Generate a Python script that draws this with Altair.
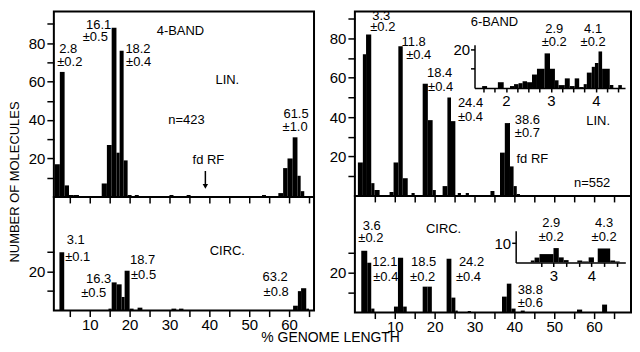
import altair as alt
import pandas as pd

FONT = "Liberation Sans"
INK = "black"

# ---------------- histogram data: bin edges (% genome length) and counts ----------------
L_LIN_EDGES = [1.2, 2.5, 3.7, 4.8, 6.0, 7.3, 13.0, 14.3, 15.5, 16.7, 17.5, 18.5, 19.5, 20.5, 21.3,
               22.3, 30.0, 31.0, 34.3, 35.3, 53.2, 54.2, 57.3, 58.5, 59.6, 60.9, 62.1, 62.9, 63.8]
L_LIN_COUNTS = [17, 65, 6, 1, 1, 0, 7, 27, 88, 23, 76, 19, 1, 0, 1, 0, 1, 0, 1, 0, 1, 0, 2, 15, 20,
                31, 11, 3]

L_CIRC_EDGES = [2.4, 3.6, 14.7, 15.5, 16.75, 18.0, 18.75, 20.0, 21.0, 22.0, 23.2, 30.5, 31.7, 32.4,
                33.5, 61.0, 62.2, 63.0, 64.3, 65.0]
L_CIRC_COUNTS = [30, 0, 1, 14.5, 13.5, 7, 20.5, 1, 0, 1.5, 0, 1, 0, 1, 0, 2.5, 10, 11.5, 1]

R_LIN_EDGES = [0.75, 2.0, 2.8, 4.1, 4.9, 6.2, 8.7, 9.7, 10.9, 12.0, 13.25, 14.2, 15.0, 17.0, 18.3,
               19.5, 20.3, 22.0, 23.2, 24.1, 25.2, 25.8, 26.6, 27.8, 28.6, 34.0, 35.0, 36.4, 37.6,
               38.9, 39.8, 40.6, 41.4]
R_LIN_COUNTS = [17, 72, 82, 6.5, 3, 0, 2, 17, 76, 9, 0, 1.5, 0, 57, 38.5, 3, 0, 5, 50, 38, 0, 1.5,
                0, 1.5, 0, 2.5, 0, 22, 37, 15, 5, 1]

R_CIRC_EDGES = [1.6, 3.1, 4.1, 4.9, 9.8, 10.8, 12.1, 13.0, 17.0, 18.2, 19.3, 23.0, 24.2, 25.2, 25.8,
                28.3, 29.1, 36.9, 38.1, 39.25, 40.3, 41.6, 42.6, 55.7, 57.0, 62.0, 63.25]
R_CIRC_COUNTS = [31, 25, 2, 0, 3, 27.5, 3, 0, 13, 13, 0, 27, 7.5, 1, 0, 0.8, 0, 8, 14.5, 2, 0, 1, 0,
                 1.5, 0, 4]

# insets (6-band)
INS_LIN_EDGES = [1.47, 1.58, 1.82, 1.95, 2.09, 2.18, 2.28, 2.37, 2.47, 2.58, 2.69, 2.86, 2.98, 3.09,
                 3.17, 3.31, 3.42, 3.53, 3.63, 3.73, 3.80, 3.91, 3.98, 4.06, 4.14, 4.31, 4.39, 4.50,
                 4.58]
INS_LIN_COUNTS = [1, 0, 3, 0, 1, 2, 2.5, 3.5, 3, 7, 10, 18, 10, 4, 1.5, 5, 1, 5, 0.5, 2, 8, 11, 13,
                  19, 10, 1.5, 0, 1.5]

INS_CIRC_EDGES = [2.4, 2.5, 2.63, 3.0, 3.14, 3.27, 3.4, 3.63, 3.76, 3.93, 4.07, 4.17, 4.5, 4.63, 4.75]
INS_CIRC_COUNTS = [1, 2.5, 4.3, 7.4, 2.6, 1.2, 0, 1, 0.5, 2.6, 0, 7.2, 1, 0.5]

# ---------------- annotations (text, x in %, y in counts) ----------------
L_LIN_TEXT = ["4-BAND", "2.8", "±0.2", "16.1", "±0.5", "18.2", "±0.4", "LIN.", "n=423", "61.5", "±1.0", "fd RF"]
L_LIN_X = [32.75, 4.6, 5.0, 12.25, 11.4, 22.1, 22.25, 44.5, 34.25, 61.75, 61.5, 39.75]
L_LIN_Y = [86.5, 76.7, 70.0, 89.6, 82.9, 76.7, 70.0, 60.6, 39.9, 43.0, 36.3, 19.2]

L_CIRC_TEXT = ["3.1", "±0.1", "CIRC.", "16.3", "±0.5", "18.7", "±0.5", "63.2", "±0.8"]
L_CIRC_X = [6.5, 7.0, 44.5, 12.25, 11.0, 23.25, 23.5, 56.5, 56.75]
L_CIRC_Y = [36.4, 27.7, 30.8, 16.4, 9.2, 26.2, 18.5, 17.4, 9.7]

R_LIN_TEXT = ["3.3", "±0.2", "11.8", "±0.4", "18.4", "±0.4", "24.4", "±0.4", "6-BAND", "LIN.",
              "38.6", "±0.7", "fd RF", "n=552", "2.9", "±0.2", "4.1", "±0.2"]
R_LIN_X = [6.6, 7.0, 14.75, 16.0, 21.25, 21.5, 29.0, 29.0, 35.0, 61.0, 43.25, 43.25, 44.5, 59.5,
           50.0, 50.0, 59.75, 59.75]
R_LIN_Y = [91.2, 85.6, 78.0, 71.4, 62.3, 55.2, 47.1, 40.0, 88.1, 38.0, 38.5, 31.9, 18.7, 6.6,
           84.6, 78.0, 85.0, 78.0]

R_CIRC_TEXT = ["3.6", "±0.2", "CIRC.", "12.1", "±0.4", "18.5", "±0.2", "24.2", "±0.4", "38.8", "±0.6",
               "2.9", "±0.2", "4.3", "±0.2"]
R_CIRC_X = [4.25, 4.0, 22.25, 7.5, 7.75, 17.25, 17.0, 29.25, 28.5, 44.0, 44.0, 49.25, 49.25, 62.5, 62.5]
R_CIRC_Y = [43.5, 37.5, 42.0, 25.5, 18.0, 25.5, 18.0, 25.5, 18.0, 11.5, 5.0, 45.0, 38.0, 45.0, 38.0]

FDRF_ARROW_X = [39.0]
FDRF_ARROW_TOP = [13.5]
FDRF_ARROW_TIP = [5.5]


def hist_frame(edges, counts):
    df = pd.DataFrame({"x0": edges[:-1], "x1": edges[1:], "n": counts})
    return df[df["n"] > 0]


def notes_frame(texts, xs, ys):
    return pd.DataFrame({"t": texts, "x": xs, "y": ys})


def main_x_axis(show_labels):
    kw = dict(values=list(range(5, 70, 5)), title=None, grid=False, domain=False,
              tickSize=6, tickWidth=1.5, tickColor=INK, labels=show_labels)
    if show_labels:
        kw.update(labelExpr="datum.value % 10 == 0 ? datum.label : ''", labelFont=FONT,
                  labelFontSize=15, labelColor=INK, labelPadding=1)
    return alt.Axis(**kw)


def main_y_axis(values):
    return alt.Axis(values=values, labelExpr="datum.value % 20 == 0 ? datum.label : ''",
                    title=None, grid=False, domain=False, tickSize=7, tickWidth=1.5,
                    tickColor=INK, labelFont=FONT, labelFontSize=15, labelColor=INK,
                    labelPadding=2)


def main_layer(edges, counts, xdom, ydom, show_x, yvals, notes, extra=()):
    xs = alt.Scale(domain=xdom, nice=False, zero=False)
    ys = alt.Scale(domain=ydom, nice=False, zero=False)
    xa = main_x_axis(show_x)
    ya = main_y_axis(yvals)
    bars = alt.Chart(hist_frame(edges, counts)).mark_rect(color=INK).encode(
        x=alt.X("x0:Q", scale=xs, axis=xa), x2="x1:Q",
        y=alt.Y("n:Q", scale=ys, axis=ya), y2=alt.datum(0))
    txt = alt.Chart(notes).mark_text(font=FONT, fontSize=13, color=INK).encode(
        x=alt.X("x:Q", scale=xs, axis=xa), y=alt.Y("y:Q", scale=ys, axis=ya), text="t:N")
    layers = [bars, txt]
    for make in extra:
        layers.append(make(xs, ys, xa, ya))
    return alt.layer(*layers)


def inset_layer(edges, counts, xdom, xrange, ydom, yrange, xoff, yoff, xvals, yvals, ylab):
    xs = alt.Scale(domain=xdom, range=xrange, nice=False, zero=False)
    ys = alt.Scale(domain=ydom, range=yrange, nice=False, zero=False)
    xa = alt.Axis(orient="bottom", offset=xoff, values=xvals, format=".0f",
                  labelExpr="datum.value % 1 == 0 ? datum.label : ''", title=None, grid=False,
                  domain=True, domainColor=INK, domainWidth=1.5, tickSize=4, tickWidth=1.5,
                  tickColor=INK, labelFont=FONT, labelFontSize=15, labelColor=INK, labelPadding=2)
    ya = alt.Axis(orient="left", offset=yoff, values=yvals,
                  labelExpr="datum.value == %d ? datum.label : ''" % ylab, title=None, grid=False,
                  domain=True, domainColor=INK, domainWidth=1.5, tickSize=4, tickWidth=1.5,
                  tickColor=INK, labelFont=FONT, labelFontSize=15, labelColor=INK, labelPadding=1)
    return alt.Chart(hist_frame(edges, counts)).mark_rect(color=INK).encode(
        x=alt.X("x0:Q", scale=xs, axis=xa), x2="x1:Q",
        y=alt.Y("n:Q", scale=ys, axis=ya), y2=alt.datum(0))


def arrow_shaft(xs, ys, xa, ya):
    df = pd.DataFrame({"x": FDRF_ARROW_X, "y": FDRF_ARROW_TOP, "y2": FDRF_ARROW_TIP})
    return alt.Chart(df).mark_rule(color=INK, strokeWidth=1.5).encode(
        x=alt.X("x:Q", scale=xs, axis=xa), y=alt.Y("y:Q", scale=ys, axis=ya), y2="y2:Q")


def arrow_head(xs, ys, xa, ya):
    df = pd.DataFrame({"x": FDRF_ARROW_X, "y": FDRF_ARROW_TIP})
    return alt.Chart(df).mark_point(shape="triangle-down", filled=True, color=INK, size=30,
                                    opacity=1).encode(
        x=alt.X("x:Q", scale=xs, axis=xa), y=alt.Y("y:Q", scale=ys, axis=ya))


UP_TICKS = [10, 20, 30, 40, 50, 60, 70, 80, 90]
LO_TICKS = [10, 20, 30]

l_up = main_layer(L_LIN_EDGES, L_LIN_COUNTS, [1.0, 66.25], [0, 96.4], False, UP_TICKS,
                  notes_frame(L_LIN_TEXT, L_LIN_X, L_LIN_Y),
                  extra=(arrow_shaft, arrow_head)).properties(width=261, height=186)
l_lo = main_layer(L_CIRC_EDGES, L_CIRC_COUNTS, [1.0, 66.25], [0, 58.46], True, LO_TICKS,
                  notes_frame(L_CIRC_TEXT, L_CIRC_X, L_CIRC_Y)).properties(width=261, height=114)

r_up_main = main_layer(R_LIN_EDGES, R_LIN_COUNTS, [0, 69.25], [0, 93.67], False, UP_TICKS,
                       notes_frame(R_LIN_TEXT, R_LIN_X, R_LIN_Y))
r_up_inset = inset_layer(INS_LIN_EDGES, INS_LIN_COUNTS, [1.3, 4.65], [120, 271], [0, 22.5],
                         [76.7, 33.3], -108.3, -120,
                         [1.5, 1.75, 2, 2.25, 2.5, 2.75, 3, 3.25, 3.5, 3.75, 4, 4.25, 4.5],
                         [10, 20], 20)
r_up = alt.layer(r_up_main, r_up_inset).resolve_scale(x="independent", y="independent") \
    .properties(width=277, height=185)

r_lo_main = main_layer(R_CIRC_EDGES, R_CIRC_COUNTS, [0, 69.25], [0, 58.5], True, LO_TICKS,
                       notes_frame(R_CIRC_TEXT, R_CIRC_X, R_CIRC_Y))
r_lo_inset = inset_layer(INS_CIRC_EDGES, INS_CIRC_COUNTS, [2.0, 4.9], [161.3, 271.3], [0, 16.3],
                         [66.7, 35.0], -50.3, -161.3,
                         [2.67, 3, 3.33, 3.67, 4, 4.33, 4.67], [10], 10)
r_lo = alt.layer(r_lo_main, r_lo_inset).resolve_scale(x="independent", y="independent") \
    .properties(width=277, height=117)

left = alt.vconcat(l_up, l_lo, spacing=0, bounds="flush",
                   title=alt.TitleParams("NUMBER OF MOLECULES", orient="left", anchor="middle",
                                         font=FONT, fontSize=13, fontWeight="normal", color=INK,
                                         offset=5, dx=-10))
right = alt.vconcat(r_up, r_lo, spacing=0, bounds="flush")

chart = alt.hconcat(left, right, spacing=13,
                    title=alt.TitleParams("% GENOME LENGTH", orient="bottom", anchor="middle",
                                          font=FONT, fontSize=14, fontWeight="normal", color=INK,
                                          offset=-4, dx=10)) \
    .properties(padding={"top": 0, "left": 1, "right": 0, "bottom": 0}) \
    .configure_view(stroke=INK, strokeWidth=2)

chart.save("out.html", embed_options={"renderer": "svg", "actions": False})
